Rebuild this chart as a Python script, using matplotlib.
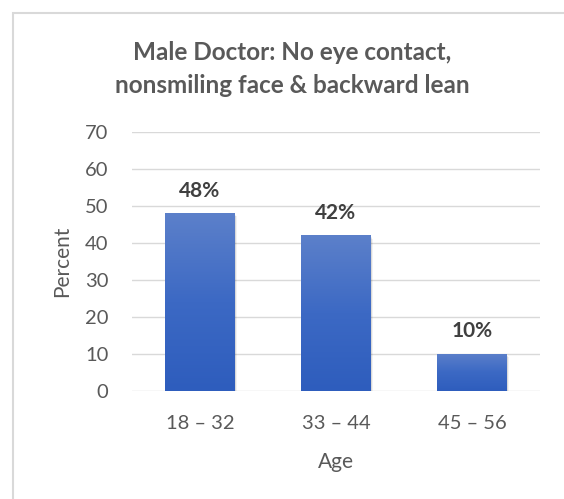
import numpy as np
import matplotlib.pyplot as plt
from matplotlib.colors import LinearSegmentedColormap
from matplotlib.patches import Rectangle

plt.rcParams['font.family'] = ['Lato', 'DejaVu Sans']

ages = ['18 – 32', '33 – 44', '45 – 56']
percent = [48, 42, 10]
bar_labels = ['48%', '42%', '10%']

text_grey = '#595959'
grad = LinearSegmentedColormap.from_list('bar', ['#2E5DBD', '#3C69C4', '#5C80CA'])

fig = plt.figure(figsize=(5.64, 4.99), dpi=100)

# chart frame
fig.patches.append(Rectangle((13 / 564, -0.1), 1.2, (499 - 13) / 499 + 0.1,
                             transform=fig.transFigure, fill=False,
                             edgecolor='#D9D9D9', linewidth=1.5))

ax = fig.add_axes([132 / 564, (499 - 391) / 499, 408 / 564, (391 - 131.7) / 499])
ax.set_xlim(-0.5, 2.5)
ax.set_ylim(0, 70)
ax.set_yticks(range(0, 71, 10))
ax.grid(axis='y', color='#D9D9D9', linewidth=1)
ax.set_axisbelow(True)
for s in ax.spines.values():
    s.set_visible(False)
ax.tick_params(length=0, labelsize=14.5, colors=text_grey)
ax.tick_params(axis='y', pad=17)
ax.tick_params(axis='x', pad=17)

x = np.arange(len(ages))
bars = ax.bar(x, percent, width=0.51, color='none', zorder=3)
gradient = np.linspace(0, 1, 256).reshape(-1, 1)
for b, v, lab in zip(bars, percent, bar_labels):
    x0, w = b.get_x(), b.get_width()
    # soft shadow
    for k in range(4):
        ax.add_patch(Rectangle((x0 + 0.004 + k * 0.004, -0.25 - k * 0.2), w, v,
                               facecolor='black', alpha=0.05, edgecolor='none', zorder=2))
    im = ax.imshow(gradient, cmap=grad, origin='lower', aspect='auto',
                   extent=[x0, x0 + w, 0, v], zorder=3)
    im.set_clip_path(b)
    ax.annotate(lab, (b.get_x() + w / 2, v), xytext=(0, 9), textcoords='offset points',
                ha='center', va='bottom', fontsize=15, fontweight='bold', color='#404040')

ax.set_xticks(x)
ax.set_xticklabels(ages)
ax.set_xlim(-0.5, 2.5)
ax.set_ylim(0, 70)
ax.set_ylabel('Percent', fontsize=15, color=text_grey, labelpad=9)
ax.set_xlabel('Age', fontsize=15, color=text_grey, labelpad=15)

fig.text(292 / 564, 1 - 69 / 499, 'Male Doctor: No eye contact,\nnonsmiling face & backward lean',
         ha='center', va='center', fontsize=17.5, fontweight='bold', color=text_grey,
         linespacing=1.5)

fig.savefig('out.png', dpi=100)
